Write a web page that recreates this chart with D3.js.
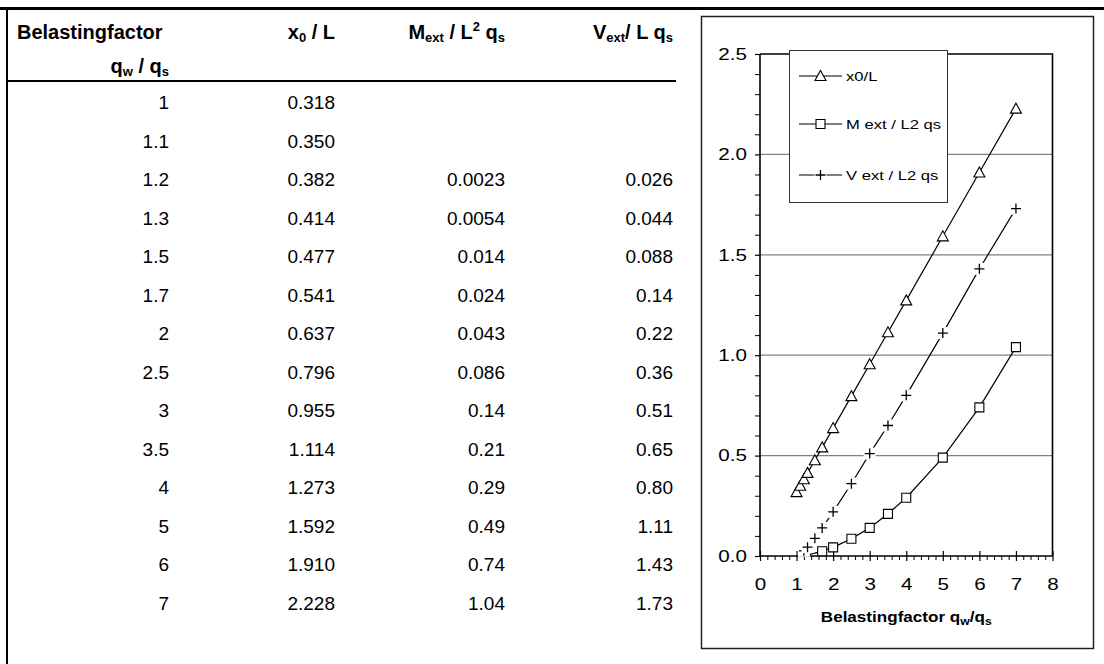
<!DOCTYPE html>
<html>
<head>
<meta charset="utf-8">
<script src="https://cdn.jsdelivr.net/npm/d3@7/dist/d3.min.js"></script>
<style>
  html, body { margin: 0; padding: 0; background: #fff; }
  svg { display: block; font-family: Arial, "Liberation Sans", Helvetica, sans-serif; }
</style>
</head>
<body>
<svg id="page" width="1104" height="664"></svg>
<script>
// Load factor q_w / q_s and the derived quantities
const factors = [1, 1.1, 1.2, 1.3, 1.5, 1.7, 2, 2.5, 3, 3.5, 4, 5, 6, 7];
const x0L     = [0.318, 0.350, 0.382, 0.414, 0.477, 0.541, 0.637, 0.796, 0.955, 1.114, 1.273, 1.592, 1.910, 2.228];
const mExt    = [null, null, 0.0023, 0.0054, 0.014, 0.024, 0.043, 0.086, 0.14, 0.21, 0.29, 0.49, 0.74, 1.04];
const vExt    = [null, null, 0.026, 0.044, 0.088, 0.14, 0.22, 0.36, 0.51, 0.65, 0.80, 1.11, 1.43, 1.73];

const xTicks = [0, 1, 2, 3, 4, 5, 6, 7, 8];
const yTicks = [0, 0.5, 1.0, 1.5, 2.0, 2.5];
const legendLabels = ["x0/L", "M ext / L2 qs", "V ext / L2 qs"];

const svg = d3.select("#page");

// ---------- page frame ----------
svg.append("line").attr("x1", 0).attr("x2", 1104).attr("y1", 8.5).attr("y2", 8.5)
  .attr("stroke", "#000").attr("stroke-width", 3);
svg.append("line").attr("x1", 7).attr("x2", 7).attr("y1", 8).attr("y2", 664)
  .attr("stroke", "#000").attr("stroke-width", 2);

// ---------- table ----------
const table = svg.append("g").attr("fill", "#000");
const colRight = [169, 335, 505, 673];

const hdr = table.append("g").attr("font-weight", "bold").attr("font-size", 20);
hdr.append("text").attr("x", 17).attr("y", 39).text("Belastingfactor");
{
  const t = hdr.append("text").attr("x", colRight[0]).attr("y", 73).attr("text-anchor", "end");
  t.append("tspan").text("q");
  t.append("tspan").attr("font-size", 13).attr("dy", 3).text("w");
  t.append("tspan").attr("dy", -3).text(" / q");
  t.append("tspan").attr("font-size", 13).attr("dy", 3).text("s");
}
{
  const t = hdr.append("text").attr("x", colRight[1]).attr("y", 39).attr("text-anchor", "end");
  t.append("tspan").text("x");
  t.append("tspan").attr("font-size", 13).attr("dy", 3).text("0");
  t.append("tspan").attr("dy", -3).text(" / L");
}
{
  const t = hdr.append("text").attr("x", colRight[2]).attr("y", 39).attr("text-anchor", "end");
  t.append("tspan").text("M");
  t.append("tspan").attr("font-size", 13).attr("dy", 3).text("ext");
  t.append("tspan").attr("dy", -3).text(" / L");
  t.append("tspan").attr("font-size", 13).attr("dy", -8).text("2");
  t.append("tspan").attr("dy", 8).text(" q");
  t.append("tspan").attr("font-size", 13).attr("dy", 3).text("s");
}
{
  const t = hdr.append("text").attr("x", colRight[3]).attr("y", 39).attr("text-anchor", "end");
  t.append("tspan").text("V");
  t.append("tspan").attr("font-size", 13).attr("dy", 3).text("ext");
  t.append("tspan").attr("dy", -3).text("/ L q");
  t.append("tspan").attr("font-size", 13).attr("dy", 3).text("s");
}
table.append("line").attr("x1", 7).attr("x2", 676).attr("y1", 81).attr("y2", 81)
  .attr("stroke", "#000").attr("stroke-width", 2);

const fmtSmall = v => v == null ? "" : (v >= 1 ? d3.format(".3r")(v) : d3.format(".2r")(v));
const rowY = i => 109 + 38.5 * i;
const rows = table.append("g").attr("font-size", 19);
factors.forEach((f, i) => {
  const cells = [String(f), x0L[i].toFixed(3), fmtSmall(mExt[i]), fmtSmall(vExt[i])];
  cells.forEach((c, j) => {
    if (!c) return;
    rows.append("text").attr("x", colRight[j]).attr("y", rowY(i))
      .attr("text-anchor", "end").text(c);
  });
});

// ---------- chart ----------
svg.append("rect").attr("x", 701.5).attr("y", 16.5).attr("width", 392).attr("height", 632)
  .attr("fill", "#fff").attr("stroke", "#222").attr("stroke-width", 1.5);

const x = d3.scaleLinear().domain([0, 8]).range([760, 1052.5]);
const y = d3.scaleLinear().domain([0, 2.5]).range([556, 54]);
const SX = 1.25; // horizontal stretch of chart lettering

const chart = svg.append("g");

// gridlines
chart.append("g").selectAll("line").data(yTicks.filter(v => v > 0 && v < 2.5)).join("line")
  .attr("x1", x(0)).attr("x2", x(8)).attr("y1", d => y(d)).attr("y2", d => y(d))
  .attr("stroke", "#808080").attr("stroke-width", 1.2);

// plot frame (top & right)
chart.append("path")
  .attr("d", `M${x(0)},${y(2.5)}H${x(8)}V${y(0)}`)
  .attr("fill", "none").attr("stroke", "#000").attr("stroke-width", 1.6);

// minor ticks
const yMinor = d3.range(0, 25).map(i => i / 10).filter(v => Math.round(v * 10) % 5 !== 0);
chart.append("g").attr("transform", `translate(${x(0)},0)`)
  .call(d3.axisLeft(y).tickValues(yMinor).tickSize(5).tickFormat(""))
  .call(g => g.select(".domain").remove())
  .selectAll("line").attr("stroke", "#000");
const xMinor = d3.range(0, 41).map(i => i / 5).filter(v => Math.abs(v - Math.round(v)) > 1e-6);
chart.append("g").attr("transform", `translate(0,${y(0)})`)
  .call(d3.axisBottom(x).tickValues(xMinor).tickSize(4).tickFormat(""))
  .call(g => g.select(".domain").remove())
  .selectAll("line").attr("stroke", "#000");

// major axes
const yAxis = chart.append("g").attr("transform", `translate(${x(0)},0)`)
  .call(d3.axisLeft(y).tickValues(yTicks).tickSize(5).tickFormat(d3.format(".1f")).tickPadding(8));
yAxis.select(".domain").attr("d", `M0,${y(2.5)}V${y(0)}`).attr("stroke", "#000").attr("stroke-width", 1.6);
yAxis.selectAll("line").attr("stroke", "#000").attr("stroke-width", 1.2);
yAxis.selectAll("text").attr("font-size", 16.5).attr("font-family", "Arial, 'Liberation Sans', sans-serif")
  .attr("fill", "#000").each(function () {
    const t = d3.select(this);
    const xx = +t.attr("x");
    t.attr("x", null).attr("transform", `translate(${xx},0) scale(${SX},1)`);
  });

const xAxis = chart.append("g").attr("transform", `translate(0,${y(0)})`)
  .call(d3.axisBottom(x).tickValues(xTicks).tickSize(5).tickFormat(d3.format("d")).tickPadding(17));
xAxis.select(".domain").attr("d", `M${x(0)},0H${x(8)}`).attr("stroke", "#000").attr("stroke-width", 1.6);
xAxis.selectAll("line").attr("y1", -5).attr("stroke", "#000").attr("stroke-width", 1.2);
xAxis.selectAll("text").attr("font-size", 16.5).attr("font-family", "Arial, 'Liberation Sans', sans-serif")
  .attr("fill", "#000").each(function () {
    const t = d3.select(this);
    const yy = +t.attr("y");
    t.attr("y", null).attr("transform", `translate(0,${yy}) scale(${SX},1)`);
  });

// axis title
{
  const t = chart.append("text")
    .attr("transform", `translate(${(x(0) + x(8)) / 2},622) scale(1.22,1)`)
    .attr("text-anchor", "middle").attr("font-weight", "bold").attr("font-size", 14);
  t.append("tspan").text("Belastingfactor q");
  t.append("tspan").attr("font-size", 10).attr("dy", 3).text("w");
  t.append("tspan").attr("dy", -3).text("/q");
  t.append("tspan").attr("font-size", 10).attr("dy", 3).text("s");
}

// ---------- series ----------
const pts = vals => factors.map((f, i) => ({ f, v: vals[i] })).filter(d => d.v != null);
const line = d3.line().x(d => x(d.f)).y(d => y(d.v));

const triPath = "M0,-5.5L5.5,4.5H-5.5Z";
const sqPath = "M-4.5,-4.5H4.5V4.5H-4.5Z";
const plusPath = "M-5,0H5M0,-5V5";

// markers sitting on the axis (values below this) are left off; the line still runs through them
const markerFloor = 0.02;

const series = [
  { name: legendLabels[0], data: pts(x0L), marker: "tri" },
  { name: legendLabels[1], data: pts(mExt), marker: "sq" },
  { name: legendLabels[2], data: pts(vExt), marker: "plus" }
];

function drawMarker(g, kind) {
  if (kind === "tri") {
    g.append("path").attr("d", triPath).attr("fill", "#fff").attr("stroke", "#000").attr("stroke-width", 1.1);
  } else if (kind === "sq") {
    g.append("path").attr("d", sqPath).attr("fill", "#fff").attr("stroke", "#000").attr("stroke-width", 1.1);
  } else {
    g.append("rect").attr("x", -6).attr("y", -6).attr("width", 12).attr("height", 12).attr("fill", "#fff");
    g.append("path").attr("d", plusPath).attr("fill", "none").attr("stroke", "#000").attr("stroke-width", 1.3);
  }
}

series.forEach(s => {
  chart.append("path").datum(s.data).attr("d", line)
    .attr("fill", "none").attr("stroke", "#000").attr("stroke-width", 1.2);
  chart.append("g").selectAll("g").data(s.data.filter(d => d.v >= markerFloor)).join("g")
    .attr("transform", d => `translate(${x(d.f)},${y(d.v)})`)
    .each(function () { drawMarker(d3.select(this), s.marker); });
});

// ---------- legend ----------
const legend = chart.append("g");
legend.append("rect").attr("x", 789.5).attr("y", 50.5).attr("width", 158).attr("height", 152)
  .attr("fill", "#fff").attr("stroke", "#333").attr("stroke-width", 1);
const legY = [76, 124, 175];
series.forEach((s, i) => {
  const g = legend.append("g").attr("transform", `translate(0,${legY[i]})`);
  g.append("line").attr("x1", 799).attr("x2", 842).attr("stroke", "#000").attr("stroke-width", 1.2);
  drawMarker(g.append("g").attr("transform", "translate(820.5,0)"), s.marker);
  g.append("text").attr("transform", `translate(846,5) scale(1.33,1)`)
    .attr("font-size", 12.5).text(s.name);
});
</script>
</body>
</html>
